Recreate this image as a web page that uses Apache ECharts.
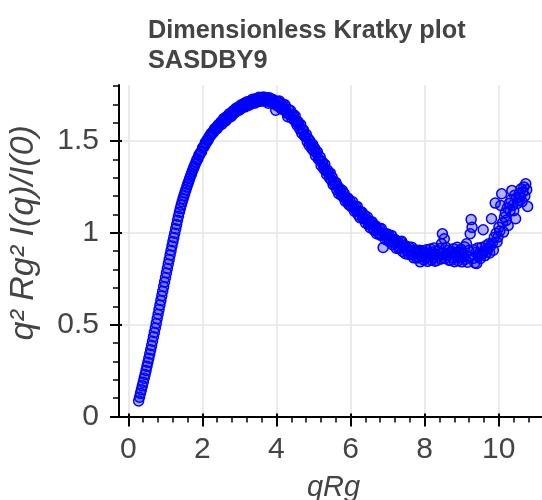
<!DOCTYPE html>
<html>
<head>
<meta charset="utf-8">
<script src="https://cdn.jsdelivr.net/npm/echarts@6/dist/echarts.min.js"></script>
<style>
html,body{margin:0;padding:0;background:#fff;}
#chart{width:542px;height:500px;}
</style>
</head>
<body>
<div id="chart"></div>
<script>
var titleLines = ['Dimensionless Kratky plot', 'SASDBY9'];
var xAxisName = 'qRg';
var yAxisName = 'q\u00b2 Rg\u00b2 I(q)/I(0)';
var xMajorTicks = [0, 2, 4, 6, 8, 10];
var xMinorTicks = [0.4, 0.8, 1.2, 1.6, 2.4, 2.8, 3.2, 3.6, 4.4, 4.8, 5.2, 5.6, 6.4, 6.8, 7.2, 7.6, 8.4, 8.8, 9.2, 9.6, 10.4, 10.8, 11.2];
var yMajorTicks = [0, 0.5, 1, 1.5];
var yMinorTicks = [0.1, 0.2, 0.3, 0.4, 0.6, 0.7, 0.8, 0.9, 1.1, 1.2, 1.3, 1.4, 1.6, 1.7, 1.8];

var qRg = [
0.280,0.305,0.330,0.355,0.380,0.405,0.430,0.455,0.480,0.505,
0.530,0.555,0.580,0.605,0.630,0.655,0.680,0.705,0.730,0.755,
0.780,0.805,0.830,0.855,0.880,0.905,0.930,0.955,0.980,1.005,
1.030,1.055,1.080,1.105,1.130,1.155,1.180,1.205,1.230,1.255,
1.280,1.305,1.330,1.355,1.380,1.405,1.430,1.455,1.480,1.505,
1.530,1.555,1.580,1.605,1.630,1.655,1.680,1.705,1.730,1.755,
1.780,1.805,1.830,1.855,1.880,1.905,1.930,1.955,1.980,2.005,
2.030,2.055,2.080,2.105,2.130,2.155,2.180,2.205,2.230,2.255,
2.280,2.305,2.330,2.355,2.380,2.405,2.430,2.455,2.480,2.505,
2.530,2.555,2.580,2.605,2.630,2.655,2.680,2.705,2.730,2.755,
2.780,2.805,2.830,2.855,2.880,2.905,2.930,2.955,2.980,3.005,
3.030,3.055,3.080,3.105,3.130,3.155,3.180,3.205,3.230,3.255,
3.280,3.305,3.330,3.355,3.380,3.405,3.430,3.455,3.480,3.505,
3.530,3.555,3.580,3.605,3.630,3.655,3.680,3.705,3.730,3.755,
3.780,3.805,3.830,3.855,3.880,3.905,3.930,3.955,3.980,4.005,
4.030,4.055,4.080,4.105,4.130,4.155,4.180,4.205,4.230,4.255,
4.280,4.305,4.330,4.355,4.380,4.405,4.430,4.455,4.480,4.505,
4.530,4.555,4.580,4.605,4.630,4.655,4.680,4.705,4.730,4.755,
4.780,4.805,4.830,4.855,4.880,4.905,4.930,4.955,4.980,5.005,
5.030,5.055,5.080,5.105,5.130,5.155,5.180,5.205,5.230,5.255,
5.280,5.305,5.330,5.355,5.380,5.405,5.430,5.455,5.480,5.505,
5.530,5.555,5.580,5.605,5.630,5.655,5.680,5.705,5.730,5.755,
5.780,5.805,5.830,5.855,5.880,5.905,5.930,5.955,5.980,6.005,
6.030,6.055,6.080,6.105,6.130,6.155,6.180,6.205,6.230,6.255,
6.280,6.305,6.330,6.355,6.380,6.405,6.430,6.455,6.480,6.505,
6.530,6.555,6.580,6.605,6.630,6.655,6.680,6.705,6.730,6.755,
6.780,6.805,6.830,6.855,6.880,6.905,6.930,6.955,6.980,7.005,
7.030,7.055,7.080,7.105,7.130,7.155,7.180,7.205,7.230,7.255,
7.280,7.305,7.330,7.355,7.380,7.405,7.430,7.455,7.480,7.505,
7.530,7.555,7.580,7.605,7.630,7.655,7.680,7.705,7.730,7.755,
7.780,7.805,7.830,7.855,7.880,7.905,7.930,7.955,7.980,8.005,
8.030,8.055,8.080,8.105,8.130,8.155,8.180,8.205,8.230,8.255,
8.280,8.305,8.330,8.355,8.380,8.405,8.430,8.455,8.480,8.505,
8.530,8.555,8.580,8.605,8.630,8.655,8.680,8.705,8.730,8.755,
8.780,8.805,8.830,8.855,8.880,8.905,8.930,8.955,8.980,9.005,
9.030,9.055,9.080,9.105,9.130,9.155,9.180,9.205,9.230,9.255,
9.280,9.305,9.330,9.355,9.380,9.405,9.430,9.455,9.480,9.505,
9.530,9.555,9.580,9.605,9.630,9.655,9.680,9.705,9.730,9.755,
9.780,9.805,9.830,9.855,9.880,9.905,9.930,9.955,9.980,10.005,
10.030,10.055,10.080,10.105,10.130,10.155,10.180,10.205,10.230,10.255,
10.280,10.305,10.330,10.355,10.380,10.405,10.430,10.455,10.480,10.505,
10.530,10.555,10.580,10.605,10.630,10.655,10.680,10.705,10.730,10.755,
10.780
];

var kratky = [
0.085,0.105,0.126,0.146,0.167,0.187,0.208,0.229,0.251,0.273,
0.295,0.317,0.340,0.363,0.386,0.410,0.434,0.458,0.482,0.507,
0.532,0.557,0.582,0.607,0.632,0.657,0.682,0.707,0.732,0.757,
0.782,0.806,0.831,0.855,0.880,0.904,0.928,0.952,0.975,0.998,
1.022,1.045,1.068,1.090,1.112,1.132,1.151,1.169,1.186,1.203,
1.219,1.234,1.250,1.265,1.279,1.294,1.308,1.321,1.335,1.348,
1.361,1.373,1.385,1.400,1.402,1.424,1.426,1.439,1.442,1.462,
1.469,1.471,1.491,1.490,1.506,1.504,1.523,1.525,1.539,1.537,
1.550,1.548,1.567,1.563,1.575,1.569,1.588,1.584,1.593,1.604,
1.591,1.609,1.623,1.609,1.609,1.633,1.631,1.625,1.649,1.638,
1.634,1.656,1.665,1.650,1.664,1.678,1.663,1.670,1.686,1.669,
1.688,1.698,1.682,1.690,1.705,1.686,1.704,1.714,1.699,1.695,
1.716,1.713,1.703,1.728,1.713,1.725,1.707,1.731,1.724,1.717,
1.738,1.716,1.732,1.737,1.722,1.740,1.717,1.732,1.735,1.718,
1.706,1.736,1.718,1.727,1.708,1.726,1.702,1.715,1.668,1.717,
1.691,1.713,1.718,1.691,1.674,1.693,1.700,1.669,1.697,1.670,
1.652,1.632,1.671,1.645,1.666,1.625,1.639,1.645,1.613,1.636,
1.603,1.586,1.606,1.592,1.565,1.589,1.543,1.562,1.559,1.528,
1.525,1.537,1.498,1.513,1.477,1.500,1.482,1.458,1.480,1.446,
1.460,1.420,1.435,1.441,1.402,1.400,1.413,1.367,1.388,1.373,
1.348,1.373,1.339,1.318,1.341,1.325,1.300,1.325,1.287,1.303,
1.262,1.279,1.262,1.274,1.233,1.252,1.213,1.241,1.223,1.204,
1.230,1.196,1.214,1.173,1.193,1.176,1.189,1.153,1.175,1.149,
1.141,1.169,1.145,1.118,1.146,1.120,1.144,1.099,1.118,1.082,
1.110,1.113,1.079,1.081,1.096,1.054,1.075,1.086,1.045,1.055,
1.028,1.058,1.060,1.028,1.014,1.036,1.038,0.995,1.018,0.999,
1.024,0.987,1.023,0.988,0.920,0.998,0.965,0.986,0.995,0.959,
0.990,0.950,0.967,0.986,0.935,0.962,0.944,0.964,0.916,0.947,
0.951,0.915,0.921,0.951,0.954,0.899,0.923,0.933,0.886,0.922,
0.902,0.884,0.923,0.903,0.882,0.921,0.882,0.864,0.900,0.907,
0.863,0.893,0.865,0.905,0.842,0.896,0.872,0.903,0.853,0.890,
0.862,0.908,0.845,0.889,0.871,0.912,0.852,0.896,0.868,0.918,
0.846,0.884,0.850,0.902,0.873,0.915,0.857,0.940,0.995,0.889,
0.968,0.862,0.920,0.878,0.905,0.851,0.893,0.850,0.899,0.866,
0.914,0.843,0.887,0.872,0.921,0.848,0.896,0.864,0.910,0.842,
0.888,0.870,0.924,0.856,0.940,0.840,0.902,0.869,0.995,1.072,
1.030,0.861,0.908,0.836,0.893,0.833,0.917,0.871,0.889,0.860,
0.920,0.884,1.017,0.902,0.876,0.930,0.895,0.915,0.940,0.890,
0.928,1.077,0.945,0.905,0.975,1.162,0.998,0.950,0.977,1.030,
1.010,1.149,1.213,1.055,1.004,1.085,1.110,1.068,1.135,1.040,
1.160,1.120,1.180,1.231,1.150,1.120,1.205,1.077,1.190,1.160,
1.177,1.215,1.195,1.240,1.170,1.222,1.250,1.200,1.267,1.235,
1.144
];

var points = [];
for (var i = 0; i < qRg.length; i++) points.push([qRg[i], kratky[i]]);

var FONT = "'Liberation Sans', Arial, Helvetica, sans-serif";
var XMIN = -0.25, XMAX = 11.33, YMIN = 0, YMAX = 1.805;
var GRID = {left: 119, top: 85, width: 429, height: 331.5, show: false, outerBoundsMode: 'none', containLabel: false};

function hiddenX(ticks, len, inside, w) {
  return {
    type: 'value', min: XMIN, max: XMAX, position: 'bottom',
    axisLine: {show: false, onZero: false},
    axisTick: {show: true, customValues: ticks, length: len, inside: inside, lineStyle: {color: '#000', width: w}},
    axisLabel: {show: false}, splitLine: {show: false}
  };
}
function hiddenY(ticks, len, inside, w) {
  return {
    type: 'value', min: YMIN, max: YMAX, position: 'left',
    axisLine: {show: false, onZero: false},
    axisTick: {show: true, customValues: ticks, length: len, inside: inside, lineStyle: {color: '#000', width: w}},
    axisLabel: {show: false}, splitLine: {show: false}
  };
}

var chart = echarts.init(document.getElementById('chart'), null, {renderer: 'canvas'});
chart.setOption({
  animation: false,
  backgroundColor: '#fff',
  title: {
    text: titleLines.join('\n'),
    left: 143, top: 11,
    textStyle: {fontFamily: FONT, fontSize: 25.3, fontWeight: 'bold', color: '#444', lineHeight: 30}
  },
  grid: GRID,
  xAxis: [
    {
      type: 'value', min: XMIN, max: XMAX, interval: 2, position: 'bottom',
      name: xAxisName, nameLocation: 'middle', nameGap: 57,
      nameTextStyle: {fontFamily: FONT, fontSize: 29, fontStyle: 'italic', color: '#444'},
      axisLine: {show: true, onZero: false, lineStyle: {color: '#000', width: 2}},
      axisTick: {show: true, customValues: xMajorTicks, length: 10, lineStyle: {color: '#000', width: 2}},
      axisLabel: {show: true, customValues: xMajorTicks, margin: 18, fontFamily: FONT, fontSize: 30, color: '#444'},
      splitLine: {show: true, lineStyle: {color: '#e5e5e5', width: 1.5}}
    },
    hiddenX(xMinorTicks, 6, false, 1.5),
    hiddenX(xMajorTicks, 3, true, 2)
  ],
  yAxis: [
    {
      type: 'value', min: YMIN, max: YMAX, interval: 0.5, position: 'left',
      name: yAxisName, nameLocation: 'middle', nameGap: 78,
      nameTextStyle: {fontFamily: FONT, fontSize: 34, fontStyle: 'italic', color: '#444', padding: [0, 0, 0, 36]},
      axisLine: {show: true, onZero: false, lineStyle: {color: '#000', width: 2}},
      axisTick: {show: true, customValues: yMajorTicks, length: 9, lineStyle: {color: '#000', width: 2}},
      axisLabel: {show: true, customValues: yMajorTicks, margin: 20, fontFamily: FONT, fontSize: 30, color: '#444'},
      splitLine: {show: true, lineStyle: {color: '#e5e5e5', width: 1.5}}
    },
    hiddenY(yMinorTicks, 6, false, 1.5),
    hiddenY(yMajorTicks, 3, true, 2)
  ],
  series: [{
    type: 'scatter',
    xAxisIndex: 0, yAxisIndex: 0,
    data: points,
    symbol: 'circle',
    symbolSize: 10,
    itemStyle: {color: 'rgba(0,0,255,0.3)', borderColor: '#0000ff', borderWidth: 1.5, opacity: 1},
    emphasis: {disabled: true}
  }]
});
</script>
</body>
</html>
